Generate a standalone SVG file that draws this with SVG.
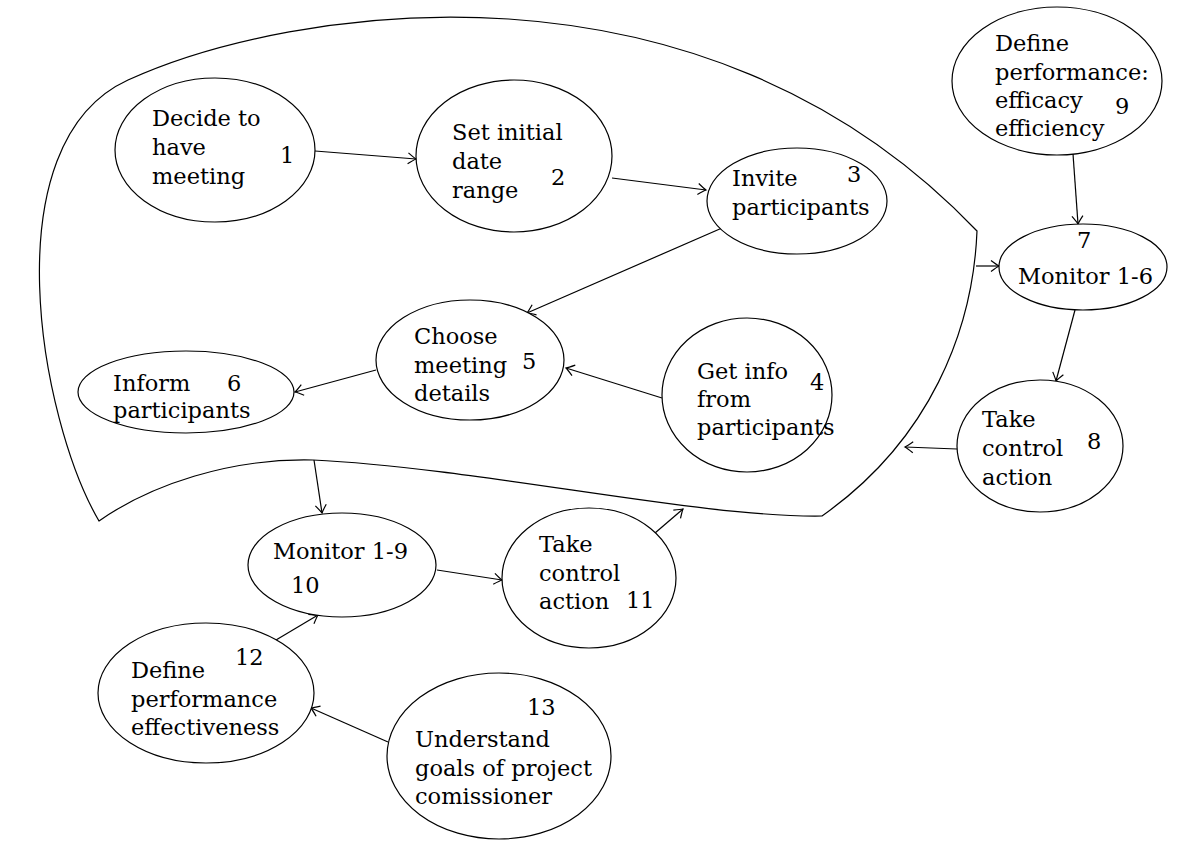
<svg xmlns="http://www.w3.org/2000/svg" width="1187" height="841" viewBox="0 0 1187 841">
  <style>
    .node ellipse { fill: #fff; stroke: #000; stroke-width: 1.2; }
    .node text { font-family: "DejaVu Serif", "Liberation Serif", serif; font-size: 22.5px; fill: #000; }
    .edge { fill: none; stroke: #000; stroke-width: 1.2; marker-end: url(#arrow); }
    .scope { fill: none; stroke: #000; stroke-width: 1.2; }
  </style>
  <defs>
    <marker id="arrow" markerUnits="userSpaceOnUse" markerWidth="14" markerHeight="14" refX="0" refY="0" viewBox="-10 -7 12 14" orient="auto">
      <path d="M -8 -5.5 Q -2 -1 0 0 Q -2 1 -8 5.5" fill="none" stroke="#000" stroke-width="1.2"/>
    </marker>
  </defs>
  <rect width="1187" height="841" fill="#fff"/>

  <!-- boundary enclosing steps 1-6 -->
  <path class="scope" d="M 99 521
    C 40 420, -10 143, 128 80
    C 288 7, 700 -60, 977 231
    C 973 330, 930 440, 822 516
    C 700 518, 480 468, 313 460
    C 230 458, 150 485, 99 521 Z"/>

  <g id="connectors">
    <line class="edge" x1="315" y1="151" x2="416" y2="159"/>
    <line class="edge" x1="612" y1="178" x2="706" y2="190"/>
    <line class="edge" x1="722" y1="228" x2="527" y2="313"/>
    <line class="edge" x1="662" y1="398" x2="566" y2="368"/>
    <line class="edge" x1="376" y1="370" x2="295" y2="392"/>
    <line class="edge" x1="1073" y1="154" x2="1078" y2="224"/>
    <line class="edge" x1="976" y1="266" x2="999" y2="266"/>
    <line class="edge" x1="1075" y1="310" x2="1056" y2="381"/>
    <line class="edge" x1="957" y1="449" x2="905" y2="447"/>
    <line class="edge" x1="314" y1="460" x2="322" y2="513"/>
    <line class="edge" x1="437" y1="570" x2="502" y2="580"/>
    <line class="edge" x1="655" y1="533" x2="683" y2="509"/>
    <line class="edge" x1="276" y1="640" x2="318" y2="615"/>
    <line class="edge" x1="388" y1="742" x2="311" y2="708"/>
  </g>

  <g id="n1" class="node">
    <ellipse cx="215" cy="150" rx="100" ry="72"/>
    <text x="152" y="126">Decide to</text>
    <text x="152" y="155">have</text>
    <text x="152" y="184">meeting</text>
    <text x="280" y="163">1</text>
  </g>
  <g id="n2" class="node">
    <ellipse cx="514" cy="156" rx="98" ry="76"/>
    <text x="452" y="140">Set initial</text>
    <text x="452" y="169">date</text>
    <text x="452" y="198">range</text>
    <text x="551" y="185">2</text>
  </g>
  <g id="n3" class="node">
    <ellipse cx="797" cy="201" rx="90" ry="53"/>
    <text x="732" y="186">Invite</text>
    <text x="732" y="215">participants</text>
    <text x="847" y="182">3</text>
  </g>
  <g id="n4" class="node">
    <ellipse cx="747" cy="395" rx="85" ry="77"/>
    <text x="697" y="379">Get info</text>
    <text x="697" y="407">from</text>
    <text x="697" y="435">participants</text>
    <text x="810" y="390">4</text>
  </g>
  <g id="n5" class="node">
    <ellipse cx="470" cy="360" rx="94" ry="60"/>
    <text x="414" y="344">Choose</text>
    <text x="414" y="373">meeting</text>
    <text x="414" y="401">details</text>
    <text x="522" y="369">5</text>
  </g>
  <g id="n6" class="node">
    <ellipse cx="186" cy="392" rx="108" ry="41"/>
    <text x="113" y="391">Inform</text>
    <text x="113" y="418">participants</text>
    <text x="227" y="391">6</text>
  </g>
  <g id="n7" class="node">
    <ellipse cx="1083" cy="267" rx="84" ry="43"/>
    <text x="1077" y="248">7</text>
    <text x="1018" y="284">Monitor 1-6</text>
  </g>
  <g id="n8" class="node">
    <ellipse cx="1040" cy="446" rx="83" ry="66"/>
    <text x="982" y="427">Take</text>
    <text x="982" y="456">control</text>
    <text x="982" y="485">action</text>
    <text x="1087" y="449">8</text>
  </g>
  <g id="n9" class="node">
    <ellipse cx="1057" cy="81" rx="105" ry="74"/>
    <text x="995" y="51">Define</text>
    <text x="995" y="80">performance:</text>
    <text x="995" y="108">efficacy</text>
    <text x="995" y="136">efficiency</text>
    <text x="1115" y="114">9</text>
  </g>
  <g id="n10" class="node">
    <ellipse cx="342" cy="565" rx="94" ry="52"/>
    <text x="273" y="559">Monitor 1-9</text>
    <text x="291" y="593">10</text>
  </g>
  <g id="n11" class="node">
    <ellipse cx="589" cy="578" rx="87" ry="70"/>
    <text x="539" y="552">Take</text>
    <text x="539" y="581">control</text>
    <text x="539" y="609">action</text>
    <text x="626" y="608">11</text>
  </g>
  <g id="n12" class="node">
    <ellipse cx="206" cy="693" rx="108" ry="70"/>
    <text x="235" y="665">12</text>
    <text x="131" y="678">Define</text>
    <text x="131" y="707">performance</text>
    <text x="131" y="735">effectiveness</text>
  </g>
  <g id="n13" class="node">
    <ellipse cx="499" cy="756" rx="112" ry="83"/>
    <text x="527" y="715">13</text>
    <text x="415" y="747">Understand</text>
    <text x="415" y="776">goals of project</text>
    <text x="415" y="804">comissioner</text>
  </g>
</svg>
